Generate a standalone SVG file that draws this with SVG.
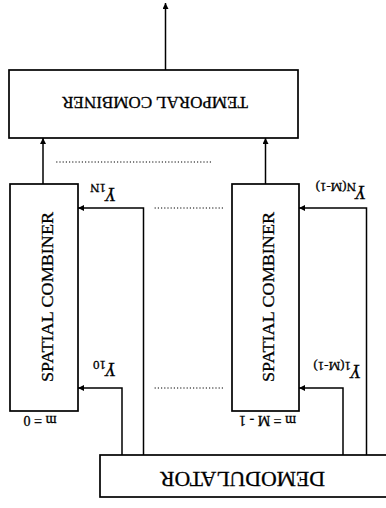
<svg xmlns="http://www.w3.org/2000/svg" width="386" height="508" viewBox="0 0 386 508">
<style>
.box{fill:#fff;stroke:#000;stroke-width:1.7}
.ln{fill:none;stroke:#000;stroke-width:1.5}
.dot{fill:none;stroke:#000;stroke-width:1;stroke-dasharray:1.2 2}
.t{font-family:"Liberation Serif","Times New Roman",serif;fill:#000;stroke:#000;stroke-width:0.3}
.y{font-style:italic;font-size:18px}
.s{font-style:normal;font-size:13px}
</style>
<defs>
<marker id="ah" viewBox="0 0 10 10" refX="10" refY="5" markerWidth="9" markerHeight="6" markerUnits="userSpaceOnUse" orient="auto">
<path d="M0,0 L10,5 L0,10 z" fill="#000"/>
</marker>
</defs>
<rect width="386" height="508" fill="#fff"/>
<g transform="rotate(180 193 254)">
<g id="connectors">
<path class="ln" d="M220.5 438 V505" marker-end="url(#ah)"/>
<path class="ln" d="M343 324 V370" marker-end="url(#ah)"/>
<path class="ln" d="M120.5 324 V370" marker-end="url(#ah)"/>
<path class="ln" d="M242.5 53 V300 H308" marker-end="url(#ah)"/>
<path class="ln" d="M264 53 V120 H308" marker-end="url(#ah)"/>
<path class="ln" d="M19.5 53 V300 H87" marker-end="url(#ah)"/>
<path class="ln" d="M43 53 V120 H87" marker-end="url(#ah)"/>
<path class="dot" d="M175 346 H330"/>
<path class="dot" d="M163 300 H233"/>
<path class="dot" d="M163 120 H233"/>
</g>
<g id="temporal">
<rect class="box" x="88" y="370" width="289" height="68"/>
<text class="t" x="231" y="411" font-size="17" text-anchor="middle" textLength="186" lengthAdjust="spacingAndGlyphs">TEMPORAL COMBINER</text>
</g>
<g id="spatial0">
<rect class="box" x="308" y="97" width="68" height="227"/>
<text class="t" x="333" y="211" font-size="17" text-anchor="middle" transform="rotate(90 333 211)" textLength="170" lengthAdjust="spacingAndGlyphs">SPATIAL COMBINER</text>
<text class="t" x="346" y="92" font-size="14" text-anchor="middle">m = 0</text>
</g>
<g id="spatialM">
<rect class="box" x="87" y="97" width="67" height="227"/>
<text class="t" x="112" y="211" font-size="17" text-anchor="middle" transform="rotate(90 112 211)" textLength="170" lengthAdjust="spacingAndGlyphs">SPATIAL COMBINER</text>
<text class="t" x="118.5" y="92" font-size="14" text-anchor="middle">m = M - 1</text>
</g>
<g id="demodulator">
<rect class="box" x="-5" y="11" width="291" height="42"/>
<text class="t" x="143.5" y="36" font-size="21" text-anchor="middle" textLength="165" lengthAdjust="spacingAndGlyphs">DEMODULATOR</text>
</g>
<g id="labels">
<text class="t y" x="270" y="320">Y<tspan class="s" dy="4">1N</tspan></text>
<text class="t y" x="270" y="145">Y<tspan class="s" dy="2">10</tspan></text>
<text class="t y" x="20" y="322">Y<tspan class="s" dy="3">N(M-1)</tspan></text>
<text class="t y" x="25" y="143">Y<tspan class="s" dy="3">1(M-1)</tspan></text>
</g>
</g>
</svg>
